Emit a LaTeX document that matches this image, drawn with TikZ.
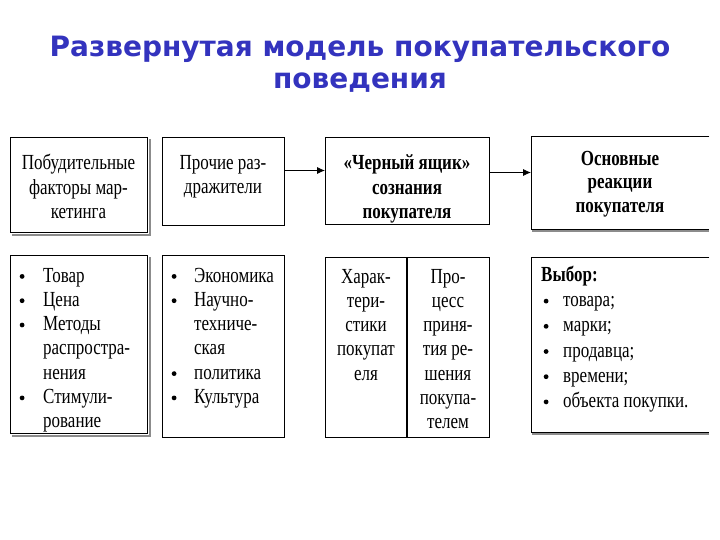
\documentclass[tikz,border=0pt]{standalone}
\usepackage{fontspec}
\setmainfont[FakeStretch=0.79]{Liberation Serif}
\newfontfamily\titlefont{DejaVu Sans}
\usetikzlibrary{arrows.meta}
\definecolor{titleblue}{RGB}{51,51,190}
\definecolor{shadowgray}{RGB}{140,140,140}
\newcommand\mybul{\hspace*{2.5pt}\tikz[baseline]\fill (0,0.26em) circle (2.4pt);}
\tikzset{
 box/.style={draw=black, line width=1pt, anchor=north west, inner sep=0pt},
 openbox/.style={draw=none, anchor=north west, inner sep=0pt},
 txt/.style={font=\fontsize{21.5}{24.3}\selectfont, inner sep=0pt, anchor=base},
 lst/.style={font=\fontsize{21.5}{24.3}\selectfont, inner sep=0pt, anchor=base west},
 shade/.style={draw=shadowgray, line width=2.5pt},
 arr/.style={-{Latex[length=8pt,width=7pt]}, line width=0.8pt},
 ttl/.style={font=\titlefont\bfseries\fontsize{28}{31}\selectfont, text=titleblue, inner sep=0pt, anchor=base}
}
\begin{document}
\begin{tikzpicture}[x=1pt,y=-1pt]
\useasboundingbox[fill=white] (0,0) rectangle (720,540);
% title
\node[ttl] (title1) at (360,57) {Развернутая модель покупательского};
\node[ttl] (title2) at (360,88.5) {поведения};
% top row boxes
\node[box, minimum width=137pt, minimum height=95pt] (b1) at (10,137) {};
\node[box, minimum width=122pt, minimum height=88pt] (b2) at (162,137) {};
\node[box, minimum width=164pt, minimum height=87pt] (b3) at (325,137) {};
\node[openbox, minimum width=178pt, minimum height=92pt] (b4) at (531,137) {};
\draw[line width=1pt] (b4.north east) -- (b4.north west) -- (b4.south west) -- (b4.south east);
% bottom row boxes
\node[box, minimum width=137pt, minimum height=178pt] (b5) at (10,255) {};
\node[box, minimum width=122pt, minimum height=182pt] (b6) at (162,255) {};
\node[box, minimum width=164pt, minimum height=180pt] (b7) at (325,257) {};
\node[openbox, minimum width=178pt, minimum height=175pt] (b8) at (531,257) {};
\draw[line width=1pt] (b8.north east) -- (b8.north west) -- (b8.south west) -- (b8.south east);
\coordinate (d7top) at ([xshift=82pt]b7.north west);
\coordinate (d7bot) at ([xshift=82pt]b7.south west);
\draw[line width=1.4pt] (d7top) -- (d7bot);
% shadows
\draw[shade] ([shift={(2,1.8)}]b1.south west) -- ([shift={(1.8,1.8)}]b1.south east) -- ([shift={(1.8,2)}]b1.north east);
\draw[shade] ([shift={(2,1.8)}]b5.south west) -- ([shift={(1.8,1.8)}]b5.south east) -- ([shift={(1.8,2)}]b5.north east);
\draw[shade] ([shift={(1,1.8)}]b4.south west) -- ([shift={(0,1.8)}]b4.south east);
\draw[shade] ([shift={(1,1.8)}]b8.south west) -- ([shift={(0,1.8)}]b8.south east);
% arrows
\draw[arr] ([yshift=11pt]b2.east) -- ([yshift=11pt]b2.east -| b3.west);
\draw[arr] ([yshift=8.5pt]b3.east) -- ([yshift=8.5pt]b3.east -| b4.west);
% top texts
\node[txt] (t1) at (78.5,170) {\begin{tabular}[t]{@{}c@{}}Побудительные\\факторы мар-\\кетинга\end{tabular}};
\node[txt, font=\fontsize{21.5}{23.3}\selectfont] (t2) at (223,170) {\begin{tabular}[t]{@{}c@{}}Прочие раз-\\дражители\end{tabular}};
\node[txt, font=\bfseries\fontsize{21.5}{24.3}\selectfont] (t3) at (407,170) {\begin{tabular}[t]{@{}c@{}}«Черный ящик»\\сознания\\покупателя\end{tabular}};
\node[txt, font=\bfseries\fontsize{21.5}{23.5}\selectfont] (t4) at (620,165.5) {\begin{tabular}[t]{@{}c@{}}Основные\\реакции\\покупателя\end{tabular}};
% bottom texts
\node[lst] (t5) at (17,282) {\begin{tabular}[t]{@{}p{26pt}@{}l@{}}\mybul&Товар\\\mybul&Цена\\\mybul&Методы\\&распростра-\\&нения\\\mybul&Стимули-\\&рование\end{tabular}};
\node[lst] (t6) at (169,282) {\begin{tabular}[t]{@{}p{25pt}@{}l@{}}\mybul&Экономика\\\mybul&Научно-\\&техниче-\\&ская\\\mybul&политика\\\mybul&Культура\end{tabular}};
\node[txt] (t7a) at (366,283) {\begin{tabular}[t]{@{}c@{}}Харак-\\тери-\\стики\\покупат\\еля\end{tabular}};
\node[txt] (t7b) at (448,283) {\begin{tabular}[t]{@{}c@{}}Про-\\цесс\\приня-\\тия ре-\\шения\\покупа-\\телем\end{tabular}};
\node[lst, font=\fontsize{21.5}{25.2}\selectfont] (t8) at (541,281.5) {\begin{tabular}[t]{@{}p{22pt}@{}l@{}}\multicolumn{2}{@{}l@{}}{\bfseries Выбор:}\\\mybul&товара;\\\mybul&марки;\\\mybul&продавца;\\\mybul&времени;\\\mybul&объекта покупки.\end{tabular}};
\end{tikzpicture}
\end{document}
